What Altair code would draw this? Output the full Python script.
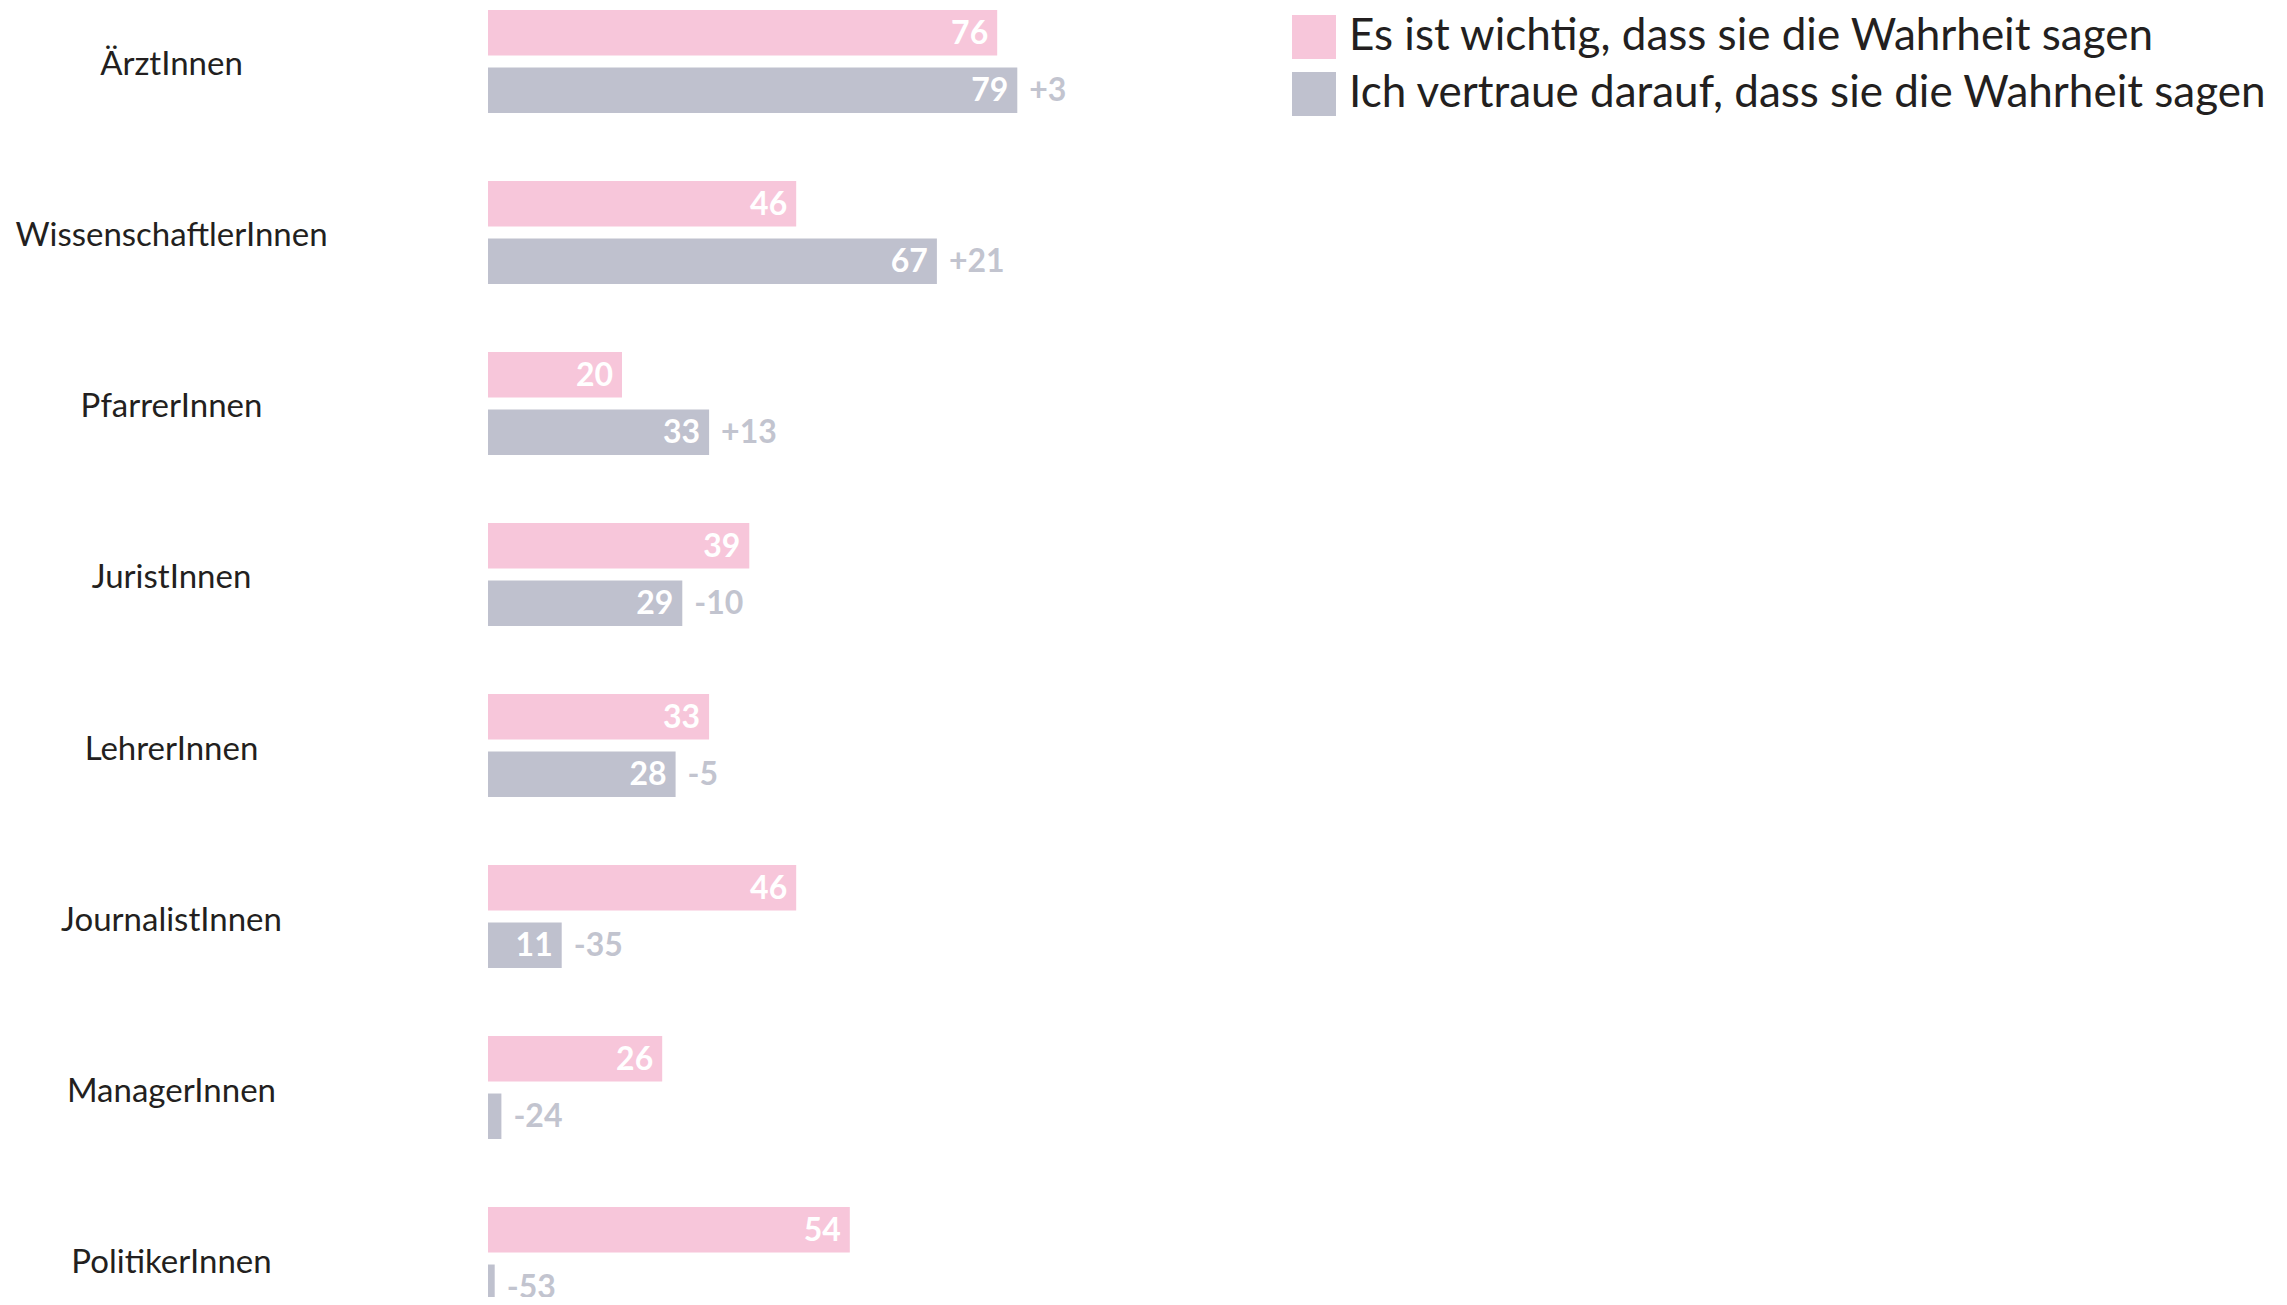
import altair as alt
import pandas as pd

categories = ["ÄrztInnen", "WissenschaftlerInnen", "PfarrerInnen", "JuristInnen",
              "LehrerInnen", "JournalistInnen", "ManagerInnen", "PolitikerInnen"]
important = [76, 46, 20, 39, 33, 46, 26, 54]
trust = [79, 67, 33, 29, 28, 11, 2, 1]
diff_labels = ["+3", "+21", "+13", "-10", "-5", "-35", "-24", "-53"]
series_names = ["Es ist wichtig, dass sie die Wahrheit sagen",
                "Ich vertraue darauf, dass sie die Wahrheit sagen"]
colors = ["#f7c6da", "#bfc1ce"]

FONT = "Lato, sans-serif"

rows = []
for c, a, b, d in zip(categories, important, trust, diff_labels):
    rows.append({"category": c, "series": series_names[0], "value": a,
                 "inside": str(a) if a >= 5 else "", "diff": ""})
    rows.append({"category": c, "series": series_names[1], "value": b,
                 "inside": str(b) if b >= 5 else "", "diff": d})
df = pd.DataFrame(rows)

base = alt.Chart(df).encode(
    y=alt.Y("category:N", sort=categories,
            scale=alt.Scale(range=[0, 1304], paddingInner=0.3977, paddingOuter=0.0117),
            axis=alt.Axis(title=None, ticks=False, domain=False, labelAlign="center",
                          labelPadding=317, labelFontSize=33, labelFont=FONT,
                          labelColor="#231f20", labelLimit=0, labelOffset=4)),
    yOffset=alt.YOffset("series:N", sort=series_names,
                        scale=alt.Scale(paddingInner=0.209, paddingOuter=0)),
    x=alt.X("value:Q", scale=alt.Scale(domain=[0, 100]), axis=None),
)

bars = base.mark_bar().encode(
    color=alt.Color("series:N", sort=series_names,
                    scale=alt.Scale(domain=series_names, range=colors),
                    legend=alt.Legend(title=None, orient="none", legendX=804, legendY=7,
                                      symbolType="square", symbolSize=1936,
                                      symbolStrokeWidth=0, symbolOpacity=1,
                                      labelFontSize=44, labelFont=FONT,
                                      labelColor="#231f20", labelOffset=13,
                                      rowPadding=13, labelLimit=0))
)

inside = base.mark_text(align="right", baseline="middle", dx=-9, dy=1, color="white",
                        fontSize=32, fontWeight="bold", font=FONT).encode(
    text="inside:N")

diff = base.mark_text(align="left", baseline="middle", dx=12, dy=1, color="#c2c4cf",
                      fontSize=32, fontWeight="bold", font=FONT).encode(
    text="diff:N")

chart = alt.layer(bars, inside, diff).properties(
    width=670, height=1289,
    autosize=alt.AutoSizeParams(type="none"),
    padding={"left": 480, "top": 0, "right": 1121, "bottom": 0},
).configure_view(stroke=None)

chart.save("out.html", embed_options={"renderer": "svg", "actions": False})
